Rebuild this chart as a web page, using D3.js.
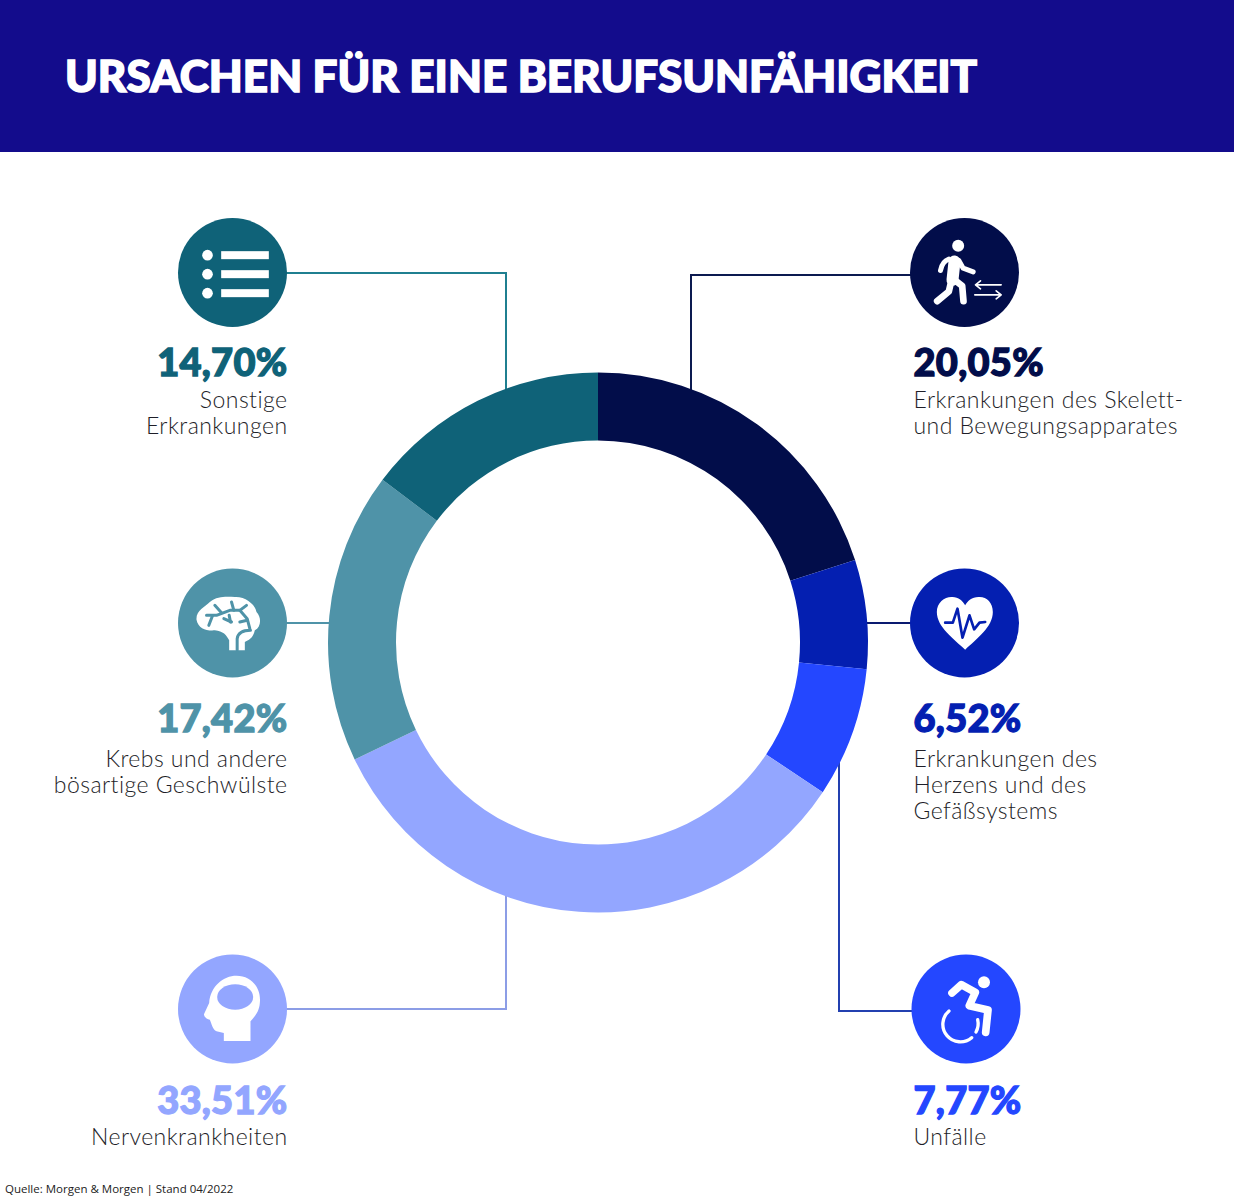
<!DOCTYPE html>
<html lang="de">
<head>
<meta charset="utf-8">
<title>Ursachen für eine Berufsunfähigkeit</title>
<script src="https://d3js.org/d3.v7.min.js"></script>
<style>
  html, body { margin: 0; padding: 0; background: #fff; }
  svg { display: block; }
  .title { font-family: Lato, sans-serif; font-weight: 900; font-size: 44px; fill: #fff; stroke: #fff; stroke-width: 1.5px; letter-spacing: 0; }
  .value { font-family: Lato, sans-serif; font-weight: 900; font-size: 38px; stroke-width: 1.3px; letter-spacing: .3px; }
  .label { font-family: Lato, sans-serif; font-weight: 300; font-size: 23px; fill: #1e1e28; letter-spacing: .45px; }
  .source { font-family: "Open Sans", sans-serif; font-size: 11.5px; fill: #222; }
</style>
</head>
<body>
<svg id="chart" width="1234" height="1200"></svg>
<script>
var categories = [
  ["Erkrankungen des Skelett-", "und Bewegungsapparates"],
  ["Erkrankungen des", "Herzens und des", "Gefäßsystems"],
  ["Unfälle"],
  ["Nervenkrankheiten"],
  ["Krebs und andere", "bösartige Geschwülste"],
  ["Sonstige", "Erkrankungen"]
];
var shares = [20.05, 6.52, 7.77, 33.51, 17.42, 14.70];
var colors = ["#020d4a", "#041fb1", "#2447ff", "#93a6ff", "#4f93a8", "#0f6278"];
var lineColors = ["#0c1a50", "#0a1a70", "#2340b0", "#8c9de6", "#4f93a8", "#1f7f90"];

var titleText = "URSACHEN FÜR EINE BERUFSUNFÄHIGKEIT";
var sourceText = "Quelle: Morgen & Morgen | Stand 04/2022";

// where each callout sits: circle centre, text side, connector corners
var callouts = [
  { cx: 964.5, cy: 272.5, side: "right", valueY: 376,  labelY: 408,  line: [[912, 275], [691, 275], [691, 392]] },
  { cx: 964.5, cy: 623,   side: "right", valueY: 732,  labelY: 767,  line: [[912, 623], [860, 623]] },
  { cx: 966,   cy: 1009,  side: "right", valueY: 1114, labelY: 1145, line: [[914, 1011], [839, 1011], [839, 760]] },
  { cx: 232.5, cy: 1009,  side: "left",  valueY: 1114, labelY: 1145, line: [[285, 1009], [506, 1009], [506, 890]] },
  { cx: 232.5, cy: 623,   side: "left",  valueY: 732,  labelY: 767,  line: [[285, 623], [335, 623]] },
  { cx: 232.5, cy: 272.5, side: "left",  valueY: 376,  labelY: 408,  line: [[285, 273], [506, 273], [506, 392]] }
];

var svg = d3.select("#chart");

svg.append("rect").attr("width", 1234).attr("height", 152).attr("fill", "#130c8c");
svg.append("text").attr("class", "title").attr("x", 65).attr("y", 92).text(titleText);

// connectors go under the ring
var line = d3.line();
svg.selectAll("path.connector")
  .data(callouts)
  .enter()
  .append("path")
  .attr("class", "connector")
  .attr("d", function(d) { return line(d.line); })
  .attr("fill", "none")
  .attr("stroke", function(d, i) { return lineColors[i]; })
  .attr("stroke-width", 2);

var pie = d3.pie().sort(null).value(function(d) { return d; });
var arc = d3.arc().innerRadius(202).outerRadius(270);

svg.append("g")
  .attr("transform", "translate(598,642.5)")
  .selectAll("path")
  .data(pie(shares))
  .enter()
  .append("path")
  .attr("d", arc)
  .attr("fill", function(d, i) { return colors[i]; });

// icons are written in 3x pixels round the point (zx, zy)
function iconGroup(i, zx, zy) {
  return svg.append("g")
    .attr("transform", "translate(" + callouts[i].cx + "," + callouts[i].cy + ") scale(0.3333) translate(" + (-zx) + "," + (-zy) + ")");
}
function strokes(g, paths, w, color) {
  paths.forEach(function(p) {
    g.append("path").attr("d", p).attr("fill", "none").attr("stroke", color)
      .attr("stroke-width", w).attr("stroke-linecap", "round").attr("stroke-linejoin", "round");
  });
}

svg.selectAll("circle.badge")
  .data(callouts)
  .enter()
  .append("circle")
  .attr("class", "badge")
  .attr("cx", function(d) { return d.cx; })
  .attr("cy", function(d) { return d.cy; })
  .attr("r", 54.5)
  .attr("fill", function(d, i) { return colors[i]; });

// walker
var g0 = iconGroup(0, 252, 218);
g0.append("circle").attr("cx", 233).attr("cy", 138).attr("r", 18).attr("fill", "#fff");
strokes(g0, ["M222 185L216 240"], 36, "#fff");
strokes(g0, ["M205 178Q185 185 180 212", "M235 182L248 205L278 216"], 15, "#fff");
strokes(g0, ["M212 245L205 275L170 304", "M222 240L245 258L249 304"], 20, "#fff");
strokes(g0, ["M285 255H362M300 243L285 255L300 267", "M283 285H362M347 273L362 285L347 297"], 5, "#fff");

// heart
var g1 = iconGroup(1, 223, 188);
g1.append("path").attr("fill", "#fff")
  .attr("d", "M225 268C190 235 140 200 140 155C140 125 165 108 187 110C205 110 218 122 225 135C232 122 245 110 265 110C288 108 308 125 308 155C308 200 260 235 225 268Z");
strokes(g1, ["M165 187L188 187L202 145L217 232L238 165L252 207L268 187L285 185"], 8, colors[1]);

// wheelchair
var g2 = iconGroup(2, 228, 208);
g2.append("circle").attr("cx", 282).attr("cy", 128).attr("r", 18).attr("fill", "#fff");
strokes(g2, ["M186 160L214 135L256 158L238 198L294 211L287 278"], 23, "#fff");
strokes(g2, ["M177 214A52 52 0 0 0 245 294", "M258 277A52 52 0 0 0 263 240"], 10, "#fff");

// head
var g3 = iconGroup(3, 218, 208);
g3.append("path").attr("fill", "#fff")
  .attr("d", "M192 304L192 280L170 275C158 270 155 250 150 240C140 240 130 228 133 222L148 190C152 140 190 108 230 108C275 108 305 145 300 190C298 220 280 235 272 245L272 304Z");
g3.append("ellipse").attr("cx", 226).attr("cy", 172).attr("rx", 54).attr("ry", 38).attr("fill", colors[3]);

// brain
var g4 = iconGroup(4, 218, 188);
g4.append("path").attr("fill", "#fff")
  .attr("d", "M110 178C108 150 135 140 150 125C175 105 205 110 225 110C255 108 285 130 290 155C305 170 305 200 285 210C280 235 265 240 255 245L255 270L208 270L208 240C200 225 190 212 165 210C140 212 115 205 110 178Z");
strokes(g4, [
  "M232 270L232 235C235 215 255 210 272 210",
  "M140 165L170 165L210 150L240 150L262 175L270 205",
  "M165 135L185 157", "M158 166L147 195", "M215 125L222 150", "M260 135L240 150",
  "M192 175L215 185", "M208 165L212 185", "M240 185L262 180"
], 9, colors[4]);

// list
var g5 = iconGroup(5, 307, 218);
[-52, 5, 62].forEach(function(dy) {
  g5.append("circle").attr("cx", 232).attr("cy", 218 + dy).attr("r", 16).attr("fill", "#fff");
  g5.append("rect").attr("x", 273).attr("y", 218 + dy - 12).attr("width", 143).attr("height", 24).attr("fill", "#fff");
});

// values and labels
var fmt = d3.formatLocale({ decimal: ",", thousands: ".", grouping: [3], currency: ["", "€"] }).format(".2f");

callouts.forEach(function(c, i) {
  var left = c.side == "left";
  var x = left ? 287.5 : 913.5;
  var anchor = left ? "end" : "start";
  svg.append("text")
    .attr("class", "value")
    .attr("x", x)
    .attr("y", c.valueY)
    .attr("text-anchor", anchor)
    .attr("fill", colors[i])
    .attr("stroke", colors[i])
    .text(fmt(shares[i]) + "%");
  categories[i].forEach(function(t, j) {
    svg.append("text")
      .attr("class", "label")
      .attr("x", x)
      .attr("y", c.labelY + j * 26)
      .attr("text-anchor", anchor)
      .text(t);
  });
});

svg.append("text").attr("class", "source").attr("x", 5).attr("y", 1193).text(sourceText);
</script>
</body>
</html>
